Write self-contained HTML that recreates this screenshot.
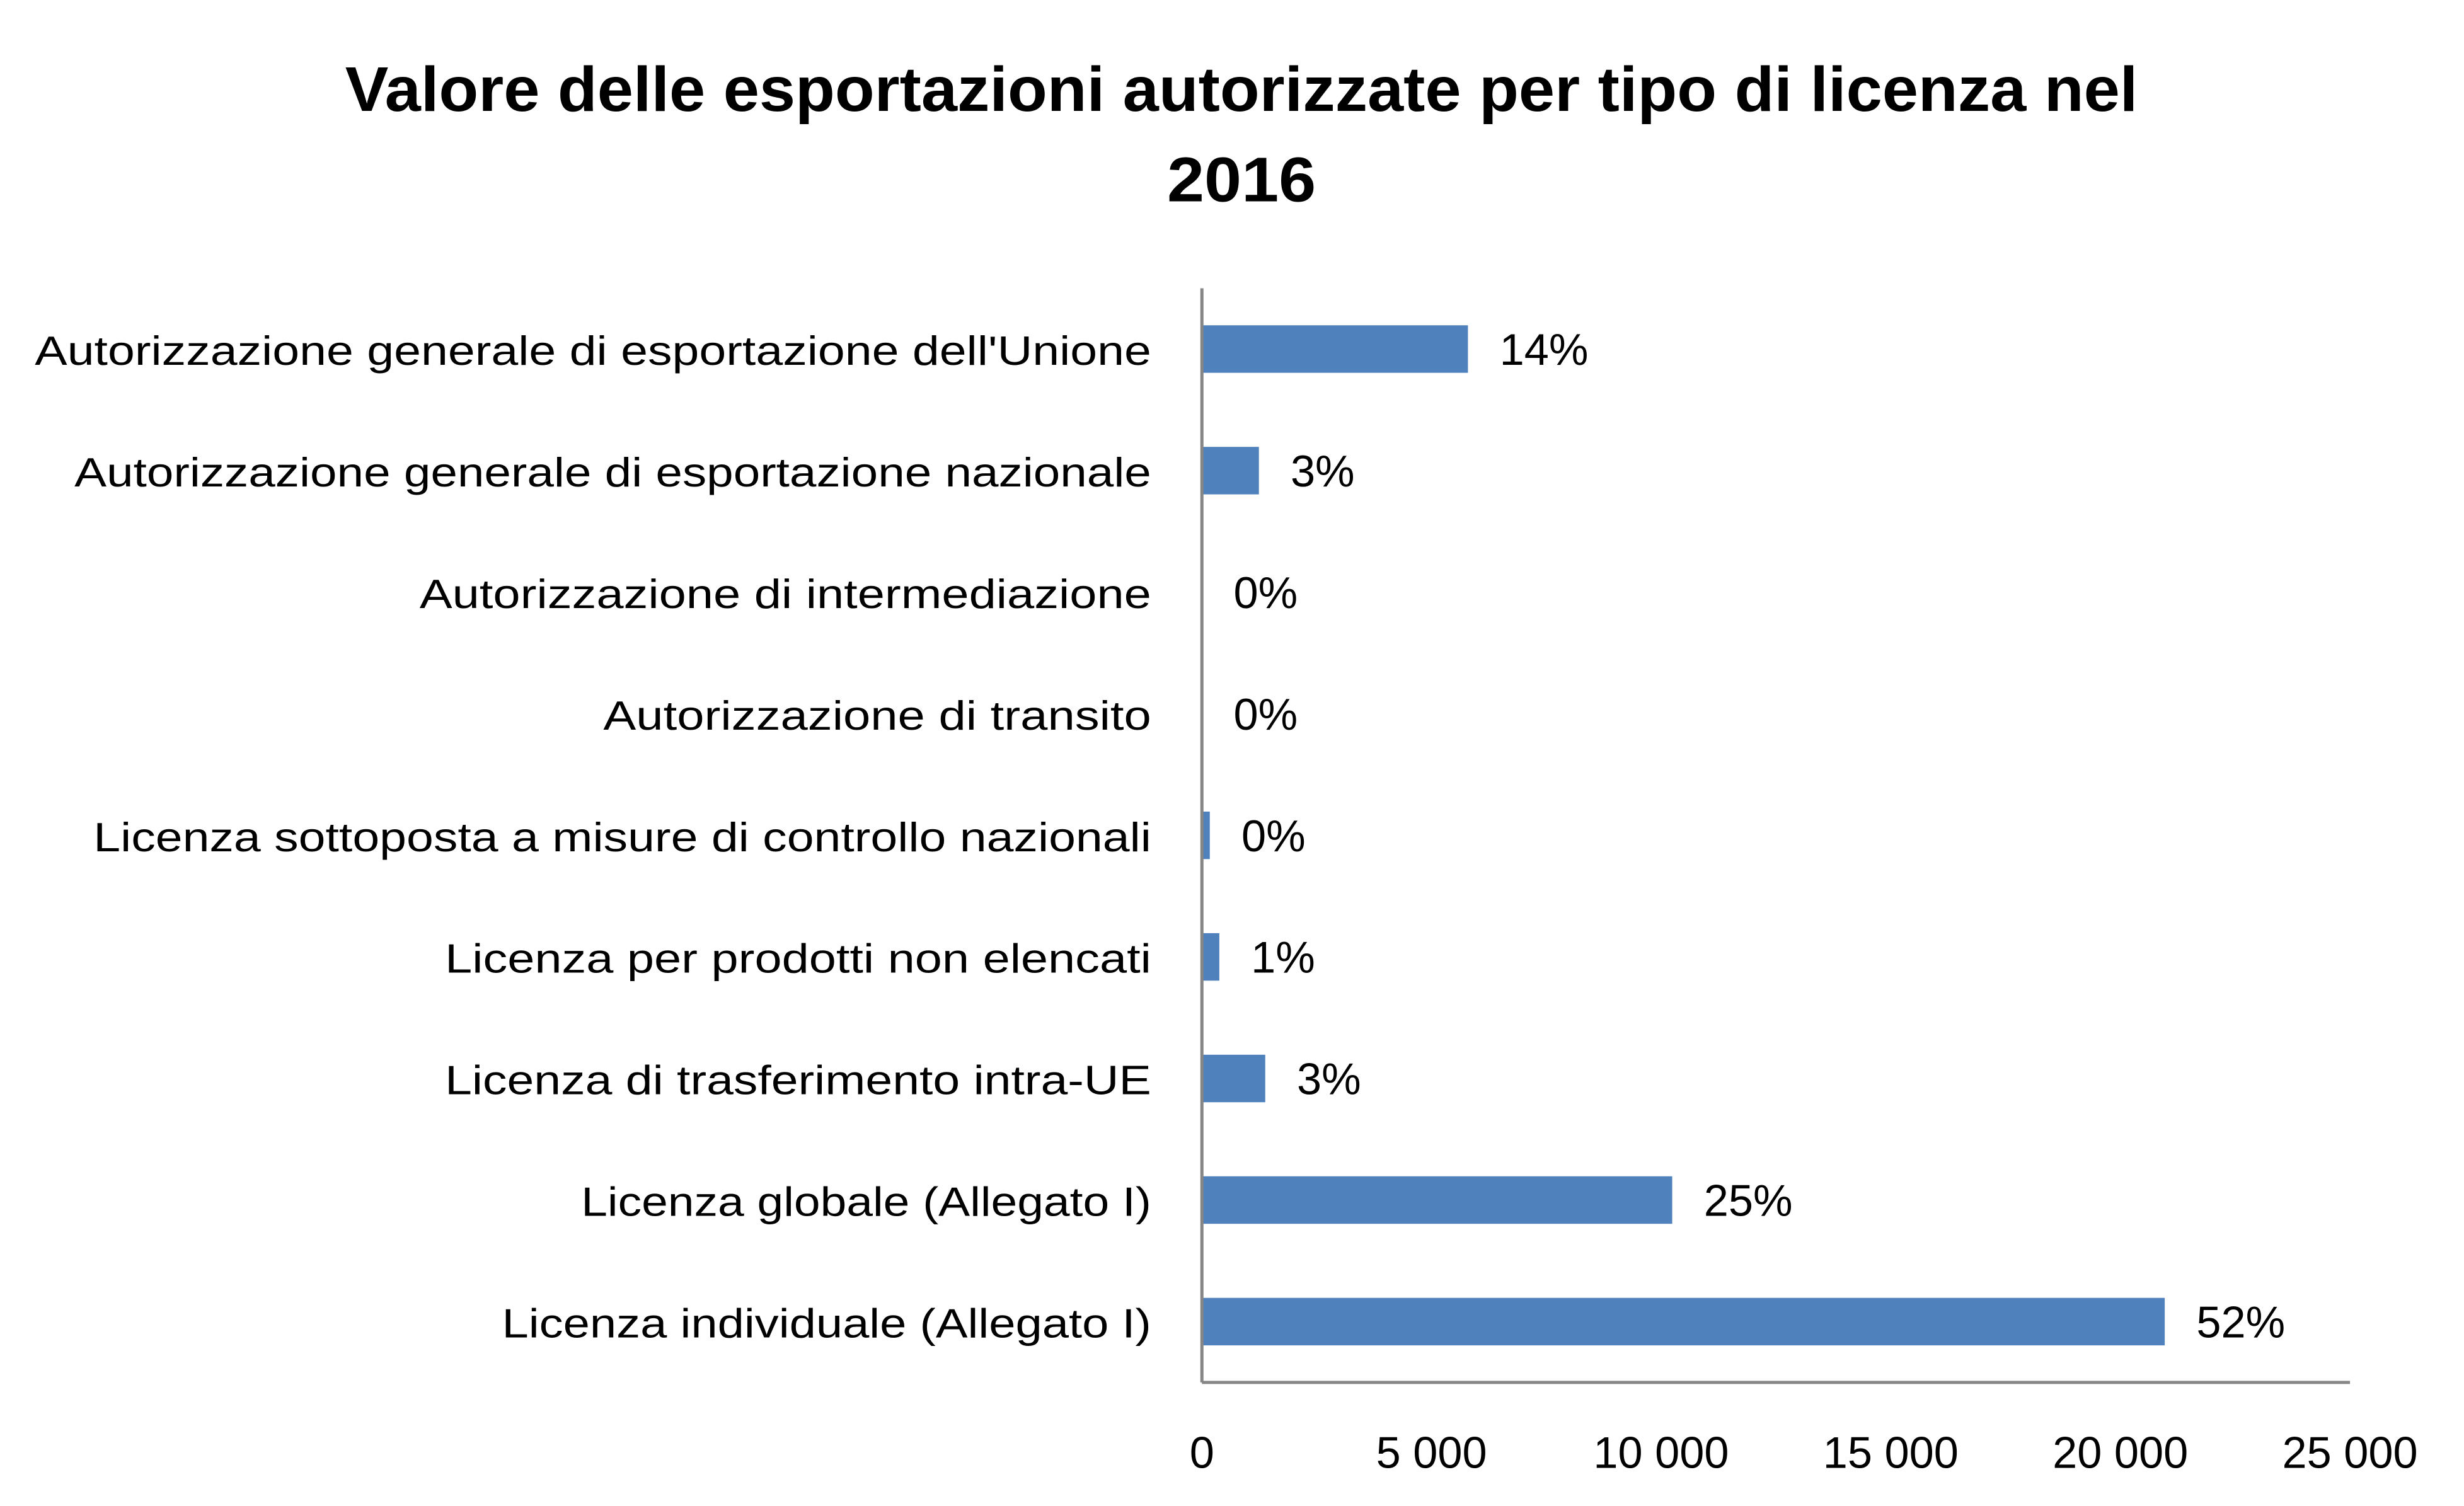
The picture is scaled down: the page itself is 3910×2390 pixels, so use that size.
<!DOCTYPE html>
<html><head><meta charset="utf-8"><style>html,body{margin:0;padding:0;background:#fff}svg{display:block}</style></head>
<body>
<svg width="3910" height="2390" viewBox="0 0 1556 951" xmlns="http://www.w3.org/2000/svg" font-family="'Liberation Sans', sans-serif">
<rect width="1556" height="951" fill="#fff"/>
<text x="784" y="70" text-anchor="middle" font-size="40" font-weight="bold" textLength="1132" lengthAdjust="spacingAndGlyphs">Valore delle esportazioni autorizzate per tipo di licenza nel</text>
<text x="784" y="127" text-anchor="middle" font-size="40" font-weight="bold" textLength="94" lengthAdjust="spacingAndGlyphs">2016</text>
<g id="plot"></g>
</svg>
<script>
const categories = ["Autorizzazione generale di esportazione dell'Unione","Autorizzazione generale di esportazione nazionale","Autorizzazione di intermediazione","Autorizzazione di transito","Licenza sottoposta a misure di controllo nazionali","Licenza per prodotti non elencati","Licenza di trasferimento intra-UE","Licenza globale (Allegato I)","Licenza individuale (Allegato I)"];
const values = [5793, 1241, 0, 0, 172, 379, 1379, 10241, 20966];
const percentLabels = ["14%","3%","0%","0%","0%","1%","3%","25%","52%"];
const labelWidths = [705, 680, 462, 346, 668, 446, 446, 360, 410];
const ticks = [0, 5000, 10000, 15000, 20000, 25000];
const tickLabels = ["0","5 000","10 000","15 000","20 000","25 000"];

const NS = "http://www.w3.org/2000/svg";
const g = document.getElementById('plot');
const x0 = 759, x1 = 1484, yTop = 182, yBot = 873;
const xMax = 25000;
const xs = v => x0 + (v / xMax) * (x1 - x0);
const step = (yBot - yTop) / categories.length;
const yc = i => yTop + step * (i + 0.5);
const barH = 30;
function mk(tag, attrs){const e=document.createElementNS(NS,tag);for(const k in attrs)e.setAttribute(k,attrs[k]);g.appendChild(e);return e;}

categories.forEach((c, i) => {
  const t = mk('text', {x: 727, y: yc(i) + 10, 'text-anchor': 'end', 'font-size': 26, fill: '#000', textLength: labelWidths[i], lengthAdjust: 'spacingAndGlyphs'});
  t.textContent = c;
  
  
  const w = xs(values[i]) - x0;
  if (w > 0) {
    const r = mk('rect', {x: x0, y: yc(i) - barH / 2, width: w, height: barH, fill: '#4f81bd'});
    
    
  }
  const v = mk('text', {x: xs(values[i]) + 20, y: yc(i) + 10, 'font-size': 28, fill: '#000'});
  v.textContent = percentLabels[i];
  
  
});

const ya = mk('line', {x1: x0, y1: yTop, x2: x0, y2: yBot, stroke: '#868686', 'stroke-width': 2});


const xa = mk('line', {x1: x0, y1: yBot, x2: x1, y2: yBot, stroke: '#868686', 'stroke-width': 2});



ticks.forEach((tv, i) => {
  const t = mk('text', {x: xs(tv), y: 927, 'text-anchor': 'middle', 'font-size': 28, fill: '#000'});
  t.textContent = tickLabels[i];
  
  
});
</script>
</body></html>
